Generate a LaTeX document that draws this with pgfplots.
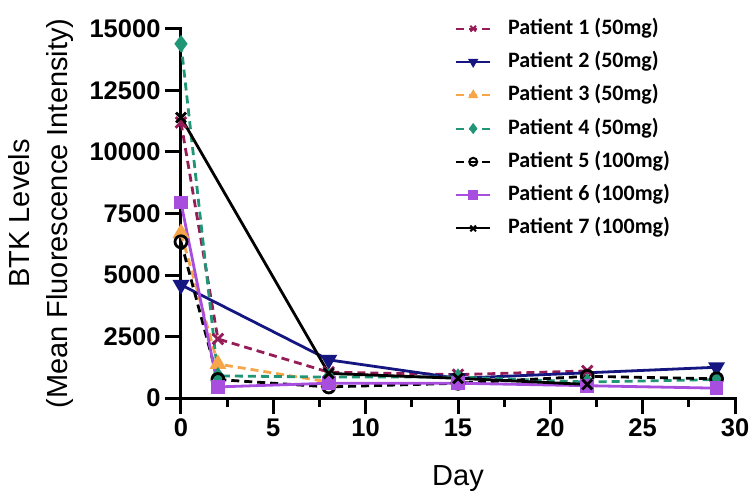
\documentclass[border=0pt]{standalone}
\usepackage{pgfplots}
\pgfplotsset{compat=1.18}
\usepackage{fontspec}
\setmainfont{Liberation Sans}
\newfontfamily\legfont{Carlito}

\definecolor{pone}{RGB}{150,28,88}
\definecolor{ptwo}{RGB}{22,22,128}
\definecolor{pthree}{RGB}{246,166,72}
\definecolor{pfour}{RGB}{32,150,118}
\definecolor{psix}{RGB}{168,78,222}

\begin{document}
\begin{tikzpicture}[x=1pt,y=1pt]
\useasboundingbox (0,0) rectangle (750,493);
\begin{axis}[
  at={(181pt,95pt)}, anchor=south west,
  width=554pt, height=369pt, scale only axis,
  xmin=0, xmax=30, ymin=0, ymax=15000,
  scaled y ticks=false,
  axis x line*=bottom, axis y line*=left,
  axis line style={line width=3pt, line cap=rect},
  tick align=outside,
  major tick length=16pt, minor tick length=9pt,
  tick style={black, line width=3pt},
  minor tick style={black, line width=3pt},
  xtick={0,5,10,15,20,25,30},
  xticklabels={0,5,10,15,20,25,30},
  minor xtick={2.5,7.5,12.5,17.5,22.5,27.5},
  ytick={0,2500,5000,7500,10000,12500,15000},
  yticklabels={0,2500,5000,7500,10000,12500,15000},
  ticklabel style={font=\fontsize{25.5}{28}\selectfont\bfseries},
  xticklabel style={yshift=-1pt},
  yticklabel style={xshift=-1pt},
  xlabel={Day},
  ylabel={BTK Levels\\(Mean Fluorescence Intensity)},
  xlabel style={font=\fontsize{29}{34}\selectfont, at={(axis description cs:0.5,-0.2358)}, anchor=base},
  ylabel style={font=\fontsize{29}{38}\selectfont, align=center, at={(axis description cs:-0.2527,0.5)}, anchor=center},
  clip=false,
  every axis plot/.append style={line width=2.8pt},
  legend cell align=left,
  legend style={draw=none, fill=none, at={(axis description cs:0.4946,1.03)}, anchor=north west,
    font=\legfont\bfseries\fontsize{22}{26}\selectfont,
    inner sep=0pt, row sep=12.3pt,
    nodes={inner sep=0pt, text height=16pt, text depth=5pt},
    /tikz/every odd column/.append style={column sep=17pt}},
  legend image code/.code={\draw[mark repeat=2,mark phase=2,#1,mark size=4pt,line width=2pt]
    plot coordinates {(0pt,0pt) (17pt,0pt) (34pt,0pt)};},
]
\addplot[color=pone, dash pattern=on 8pt off 5pt, mark=x, mark size=7.5pt, mark options={solid}]
  coordinates {(0,11200) (2,2400) (8,1050) (15,950) (22,1100)};
\addplot[color=ptwo, solid, mark=triangle*, mark size=7pt, mark options={rotate=180}]
  coordinates {(0,4600) (8,1550) (15,800) (29,1250)};
\addplot[color=pthree, dash pattern=on 8pt off 5pt, mark=triangle*, mark size=7pt, mark options={solid}]
  coordinates {(0,6700) (2,1380) (8,650)};
\addplot[color=pfour, dash pattern=on 8pt off 5pt, mark=diamond*, mark size=6.5pt, mark options={solid}]
  coordinates {(0,14400) (2,900) (8,850) (15,850) (22,650) (29,750)};
\addplot[color=black, dash pattern=on 8pt off 5pt, mark=o, mark size=6pt, mark options={solid}]
  coordinates {(0,6350) (2,750) (8,450) (15,600) (22,880) (29,780)};
\addplot[color=psix, solid, mark=square*, mark size=5.5pt]
  coordinates {(0,7950) (2,450) (8,600) (15,600) (22,500) (29,400)};
\addplot[color=black, solid, mark=x, mark size=7pt]
  coordinates {(0,11400) (8,1000) (15,800) (22,550)};
\legend{Patient 1 (50mg),Patient 2 (50mg),Patient 3 (50mg),Patient 4 (50mg),Patient 5 (100mg),Patient 6 (100mg),Patient 7 (100mg)}
\end{axis}
\end{tikzpicture}
\end{document}
